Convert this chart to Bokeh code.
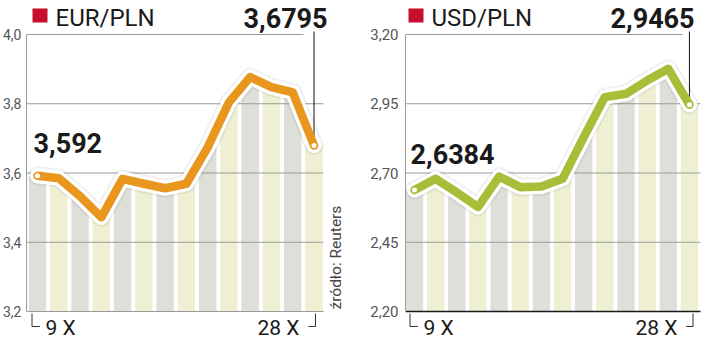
import math
from bokeh.plotting import figure
from bokeh.layouts import row
from bokeh.models import Range1d, FixedTicker, CustomJSTickFormatter
from bokeh.core.properties import value
from bokeh.embed import file_html
from bokeh.resources import INLINE

# ---------------- data ----------------
sessions = list(range(14))          # trading sessions from 9 X to 28 X
eur_pln = [3.592, 3.585, 3.533, 3.472, 3.583, 3.569, 3.556, 3.569,
           3.674, 3.804, 3.877, 3.848, 3.833, 3.6795]
usd_pln = [2.6384, 2.679, 2.630, 2.577, 2.687, 2.649, 2.651, 2.679,
           2.829, 2.974, 2.986, 3.034, 3.076, 2.9465]
eur_ticks = [3.2, 3.4, 3.6, 3.8, 4.0]
eur_tick_labels = ["3,2", "3,4", "3,6", "3,8", "4,0"]
usd_ticks = [2.20, 2.45, 2.70, 2.95, 3.20]
usd_tick_labels = ["2,20", "2,45", "2,70", "2,95", "3,20"]
date_labels = ["9 X", "28 X"]
titles = ["EUR/PLN", "USD/PLN"]
source_note = "źródło: Reuters"

FONT = value("Roboto")
W, H = 360, 340
TOP_PX, BOT_PX = 34, 311


def fmt(v):
    return ("%g" % v).replace(".", ",")


def make_chart(vals, ticks, tick_labels, title, color, axis_px, pt0_px, step_px,
               grid_end_px, top_end_px, base_color, geo, source=False):
    ppu = (BOT_PX - TOP_PX) / (ticks[-1] - ticks[0])

    def xd(px):
        return (px - pt0_px) / step_px

    def yd(py):
        return ticks[-1] - (py - TOP_PX) / ppu

    p = figure(width=W, height=H, output_backend="svg", toolbar_location=None,
               x_range=Range1d(xd(axis_px), xd(W)), y_range=Range1d(yd(H), yd(0)),
               x_axis_location=None, min_border_left=axis_px, min_border_right=0,
               min_border_top=0, min_border_bottom=0)
    p.outline_line_color = None
    p.grid.visible = False
    p.background_fill_color = "white"
    p.border_fill_color = "white"

    ax = p.yaxis[0]
    ax.ticker = FixedTicker(ticks=ticks)
    ax.formatter = CustomJSTickFormatter(args=dict(tv=ticks, tl=tick_labels), code="""
        let b = 0;
        for (let i = 0; i < tv.length; i++) {
            if (Math.abs(tv[i] - tick) < Math.abs(tv[b] - tick)) b = i;
        }
        return tl[b];
    """)
    ax.bounds = (ticks[0], ticks[-1])
    ax.major_tick_line_color = None
    ax.minor_tick_line_color = None
    ax.major_tick_out = 0
    ax.major_tick_in = 0
    ax.axis_line_color = "#9a9a9a"
    ax.major_label_text_font = "Roboto"
    ax.major_label_text_font_size = geo["tick_size"]
    ax.major_label_text_color = "#555555"
    ax.major_label_standoff = geo["standoff"]

    # bars
    bar_colors = ["#DFDFDA" if i % 2 == 0 else "#EFF0D3" for i in sessions]
    p.vbar(x=sessions, top=vals, bottom=ticks[0], width=0.82,
           fill_color=bar_colors, line_color=None)

    # grid lines
    x_axis = xd(axis_px)
    mids = ticks[1:-1]
    p.segment(x0=[x_axis] * len(mids), y0=mids, x1=[xd(grid_end_px)] * len(mids), y1=mids,
              line_color="#9a9a9a", line_width=1)
    p.segment(x0=[x_axis], y0=[ticks[-1]], x1=[xd(top_end_px)], y1=[ticks[-1]],
              line_color="#9a9a9a", line_width=1)
    p.segment(x0=[x_axis], y0=[ticks[0]], x1=[xd(grid_end_px)], y1=[ticks[0]],
              line_color=base_color, line_width=geo["base_w"])

    # line with halo
    p.line(sessions, vals, line_width=19, line_color="#000000", line_alpha=0.06,
           line_join="round", line_cap="round")
    p.line(sessions, vals, line_width=15, line_color="white",
           line_join="round", line_cap="round")
    # leader line to last value
    p.segment(x0=[sessions[-1]], y0=[vals[-1]], x1=[sessions[-1]], y1=[yd(31)],
              line_color="#111111", line_width=1)
    p.line(sessions, vals, line_width=8.5, line_color=color,
           line_join="round", line_cap="round")
    p.scatter([sessions[0], sessions[-1]], [vals[0], vals[-1]], size=5,
              fill_color="white", line_color=None)

    # title
    p.quad(left=[xd(geo["sq_l"])], right=[xd(geo["sq_l"] + 15)], top=[yd(8)], bottom=[yd(22)],
           fill_color="#C8102E", line_color=None)
    p.text(x=[xd(geo["title_x"])], y=[yd(23 - 6)], text=[title], text_font=FONT,
           text_font_size="24px", text_color="#1a1a1a", text_baseline="alphabetic",
           text_align="left")

    # value labels
    p.text(x=[xd(geo["first_x"])], y=[yd(geo["first_base"] - 10)], text=[fmt(vals[0])],
           text_font=FONT, text_font_style="bold", text_font_size="27px",
           text_color="#1a1a1a", text_baseline="alphabetic", text_align="left")
    p.text(x=[xd(geo["last_x"])], y=[yd(27 - 10)], text=[fmt(vals[-1])],
           text_font=FONT, text_font_style="bold", text_font_size="27px",
           text_color="#1a1a1a", text_baseline="alphabetic", text_align="left")

    # date brackets and labels
    bl, br = geo["br_l"], geo["br_r"]
    p.line([xd(bl), xd(bl), xd(bl + 8)], [yd(313), yd(326), yd(326)],
           line_color="#333333", line_width=1)
    p.line([xd(br - 7), xd(br), xd(br)], [yd(326), yd(326), yd(313)],
           line_color="#333333", line_width=1)
    p.text(x=[xd(geo["d1_x"]), xd(geo["d2_x"])], y=[yd(333 - 6), yd(333 - 6)], text=date_labels,
           text_font=FONT, text_font_size="21px", text_color="#1a1a1a",
           text_baseline="alphabetic", text_align="left")

    if source:
        p.text(x=[xd(335)], y=[yd(309)], text=[source_note], angle=math.pi / 2,
               text_font=FONT, text_font_size="15.5px", text_color="#444444",
               text_baseline="alphabetic", text_align="left")
    return p


geo_l = dict(tick_size="14px", standoff=5, base_w=1, sq_l=32, title_x=55, first_x=33,
             first_base=152, last_x=243, br_l=31.5, br_r=315, d1_x=45, d2_x=257)
geo_r = dict(tick_size="15px", standoff=7, base_w=1.5, sq_l=48, title_x=71, first_x=50,
             first_base=163.5, last_x=250, br_l=49.5, br_r=332.5, d1_x=63, d2_x=275)

p1 = make_chart(eur_pln, eur_ticks, eur_tick_labels, titles[0], "#E8961E",
                axis_px=26, pt0_px=37, step_px=21.27, grid_end_px=323, top_end_px=303,
                base_color="#9a9a9a", geo=geo_l, source=True)
p2 = make_chart(usd_pln, usd_ticks, usd_tick_labels, titles[1], "#A8BD38",
                axis_px=45, pt0_px=54, step_px=21.15, grid_end_px=340, top_end_px=322,
                base_color="#1a1a1a", geo=geo_r)

layout = row(p1, p2)
open("out.html", "w").write(file_html(layout, INLINE))
